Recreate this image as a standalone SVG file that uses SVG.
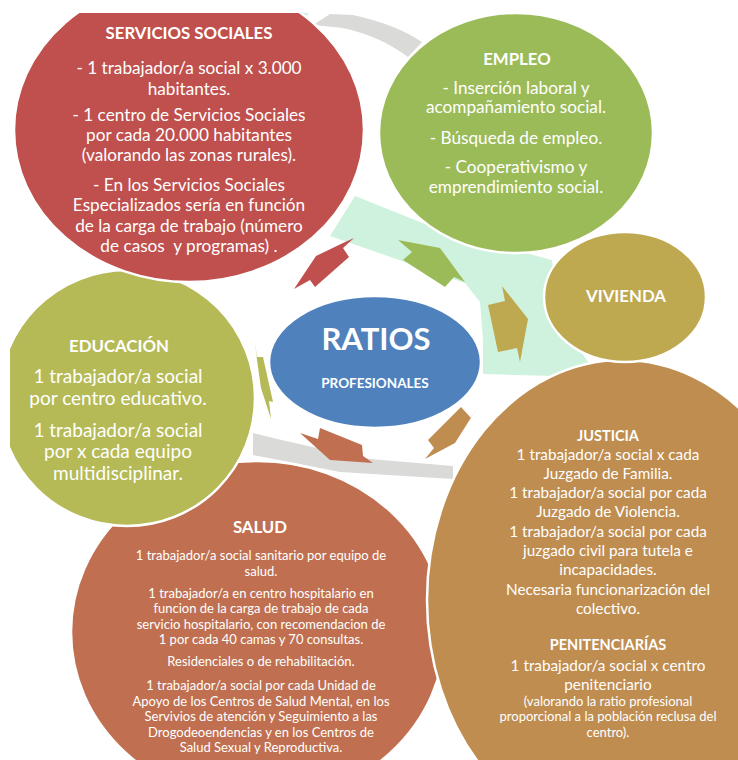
<svg xmlns="http://www.w3.org/2000/svg" width="738" height="760" viewBox="0 0 738 760">
<style>
.n{stroke:#fff;stroke-width:2.5}
text{font-family:Lato,"Liberation Sans",sans-serif;fill:#fff;text-anchor:middle}
.h{font-weight:bold;font-size:16.8px}
.t17{font-size:17.2px}
.t18{font-size:19px}
.t13{font-size:13px}
.t15{font-size:15.3px}
</style>
<defs>
<clipPath id="c"><rect x="10" y="13" width="728" height="747"/></clipPath>
</defs>
<rect width="738" height="760" fill="#fff"/>
<g clip-path="url(#c)">
<g id="connectors">
<path d="M355,196 L440,230 L552,260 L560,320 L590,365 L620,378 L483,374 L483,340 L480,302 L465,283 L450,278 L405,262 L330,236 Z" fill="#CFF2DE"/>
<path d="M296,13 L309,13 L303,20 Z" fill="#CFF2DE"/>
<path d="M313,25 L330,14 L353,15 Q395,24 422,42 L408,57 Q380,36 343,28 Z" fill="#DADAD8"/>
<path d="M253,433 Q300,445 370,459 L453,466 L453,479 L340,472 Q290,462 253,455 Z" fill="#DADAD8"/>
<polygon points="354,238 343,248 349,257 315,287 310,280 294,289 316,256 343,243" fill="#C0504D"/>
<polygon points="398,240 440,248 465,282 454,277 445,287 403,260 412,252" fill="#9BBB59"/>
<polygon points="502,286 528,319 520,362 517,348 498,352 488,305 505,301" fill="#BEA850"/>
<polygon points="255,343 257,357 263,357 273,402 269,401 271,419 261,388 257,360" fill="#B5BA56"/>
<polygon points="300,433 318,439 320,428 362,445 363,456 373,463 330,460" fill="#C07050"/>
<polygon points="481,402 471,418 461,407 428,440 434,448 425,459 455,443" fill="#BF8D50"/>
</g>
<g id="salud">
<ellipse class="n" cx="258" cy="632" rx="187" ry="171" fill="#C07050"/>
<text class="h" x="260" y="533">SALUD</text>
<text class="t13" x="261"><tspan x="261" y="560">1 trabajador/a social sanitario por equipo de</tspan><tspan x="261" y="576">salud.</tspan><tspan x="261" y="598">1 trabajador/a en centro hospitalario en</tspan><tspan x="261" y="613">funcion de la carga de trabajo de cada</tspan><tspan x="261" y="629">servicio hospitalario, con recomendacion de</tspan><tspan x="261" y="644">1 por cada 40 camas y 70 consultas.</tspan><tspan x="261" y="666">Residenciales o de rehabilitación.</tspan><tspan x="261" y="690">1 trabajador/a social por cada Unidad de</tspan><tspan x="261" y="706">Apoyo de los Centros de Salud Mental, en los</tspan><tspan x="261" y="721">Servivios de atención y Seguimiento a las</tspan><tspan x="261" y="737">Drogodeoendencias y en los Centros de</tspan><tspan x="261" y="752">Salud Sexual y Reproductiva.</tspan></text>
</g>
<g id="educacion">
<ellipse class="n" cx="127" cy="398" rx="128" ry="128" fill="#B5BA56"/>
<text class="h" x="119" y="352">EDUCACIÓN</text>
<text class="t18"><tspan x="118" y="383">1 trabajador/a social</tspan><tspan x="118" y="405">por centro educativo.</tspan><tspan x="118" y="437">1 trabajador/a social</tspan><tspan x="118" y="458">por x cada equipo</tspan><tspan x="118" y="480">multidisciplinar.</tspan></text>
</g>
<g id="servicios-sociales">
<ellipse class="n" cx="189" cy="130" rx="175" ry="152" fill="#C0504D"/>
<text class="h" x="189" y="39">SERVICIOS SOCIALES</text>
<text class="t17" xml:space="preserve"><tspan x="189" y="74">- 1 trabajador/a social x 3.000</tspan><tspan x="189" y="95">habitantes.</tspan><tspan x="189" y="121">- 1 centro de Servicios Sociales</tspan><tspan x="189" y="141">por cada 20.000 habitantes</tspan><tspan x="189" y="161">(valorando las zonas rurales).</tspan><tspan x="189" y="191">- En los Servicios Sociales</tspan><tspan x="189" y="211">Especializados sería en función</tspan><tspan x="189" y="232">de la carga de trabajo (número</tspan><tspan x="189" y="252">de casos  y programas) .</tspan></text>
</g>
<g id="empleo">
<ellipse class="n" cx="516" cy="133" rx="137" ry="120" fill="#9BBB59"/>
<text class="h" x="517" y="65">EMPLEO</text>
<text class="t17"><tspan x="516" y="94">- Inserción laboral y</tspan><tspan x="516" y="113">acompañamiento social.</tspan><tspan x="516" y="144">- Búsqueda de empleo.</tspan><tspan x="516" y="173">- Cooperativismo y</tspan><tspan x="516" y="193">emprendimiento social.</tspan></text>
</g>
<g id="justicia">
<ellipse class="n" cx="622" cy="600" rx="195" ry="240" fill="#BF8D50"/>
<text class="h" x="608" y="441" style="font-size:14.5px">JUSTICIA</text>
<text class="t15"><tspan x="608" y="460">1 trabajador/a social x cada</tspan><tspan x="608" y="479">Juzgado de Familia.</tspan><tspan x="608" y="498">1 trabajador/a social por cada</tspan><tspan x="608" y="517">Juzgado de Violencia.</tspan><tspan x="608" y="537">1 trabajador/a social por cada</tspan><tspan x="608" y="556">juzgado civil para tutela e</tspan><tspan x="608" y="575">incapacidades.</tspan><tspan x="608" y="595">Necesaria funcionarización del</tspan><tspan x="608" y="614">colectivo.</tspan></text>
<text class="h" x="608" y="650" style="font-size:14.5px">PENITENCIARÍAS</text>
<text class="t15"><tspan x="608" y="671">1 trabajador/a social x centro</tspan><tspan x="608" y="690">penitenciario</tspan></text>
<text class="t13"><tspan x="608" y="706">(valorando la ratio profesional</tspan><tspan x="608" y="721">proporcional a la población reclusa del</tspan><tspan x="608" y="737">centro).</tspan></text>
</g>
<g id="vivienda">
<ellipse class="n" cx="625" cy="297" rx="81" ry="65" fill="#BEA850"/>
<text class="h" x="626" y="302">VIVIENDA</text>
</g>
<g id="ratios">
<ellipse class="n" cx="375" cy="362" rx="106" ry="66" fill="#4F81BD"/>
<text x="376" y="350" style="font-weight:bold;font-size:31px">RATIOS</text>
<text x="375" y="388" style="font-weight:bold;font-size:13.5px">PROFESIONALES</text>
</g>
</g>
</svg>
